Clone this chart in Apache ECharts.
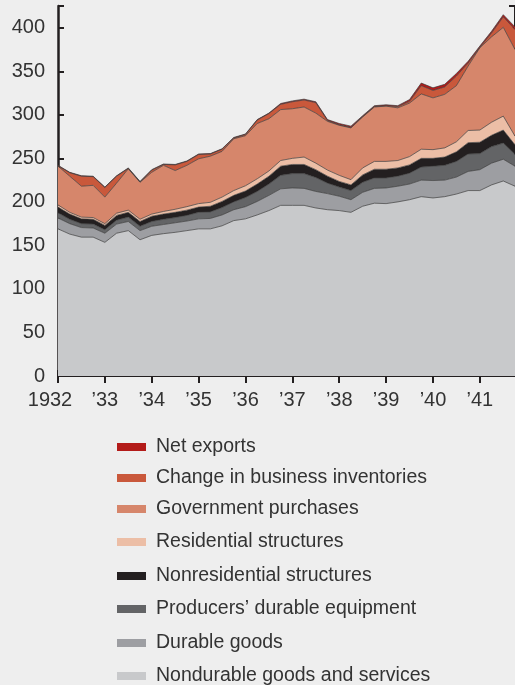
<!DOCTYPE html>
<html>
<head>
<meta charset="utf-8">
<script src="https://cdn.jsdelivr.net/npm/echarts@6/dist/echarts.min.js"></script>
<style>
  html, body { margin: 0; padding: 0; background: #eeeeee; }
  #main { width: 515px; height: 685px; }
</style>
</head>
<body>
<div id="main"></div>
<script>
// years shown on the axis, four quarters each
var years = ['1932', '1933', '1934', '1935', '1936', '1937', '1938', '1939', '1940', '1941'];
var yTicks = [0, 50, 100, 150, 200, 250, 300, 350, 400];

// quarterly values, 1932 Q1 .. 1941 Q4
var nondurable = [169, 163, 159.5, 159.5, 153.5, 164, 167, 156.5, 161.5, 163.5, 165, 167, 169, 169, 172.5, 178.5, 180.5, 185, 190, 196,
                  196, 196, 193, 191, 190, 188, 195, 198.5, 198, 200, 202.5, 206, 204.5, 206, 209, 213, 213, 219.5, 224, 218];
var durable = [12.5, 12, 11, 10.5, 10.5, 10.5, 10.5, 10.5, 10.5, 10.5, 11, 11, 11.5, 12, 12.5, 12.5, 14, 15.5, 17.5, 19,
               20, 19.5, 19, 18.5, 16.5, 14.5, 16, 17, 18, 18, 18, 19, 20, 19, 19.5, 22, 24, 25, 25, 23];
var producers = [6, 5, 4.5, 4.5, 4, 4.5, 5, 5, 5.5, 6, 6, 6.5, 7.5, 7.5, 8.5, 9, 10.5, 11.5, 13, 15.5,
                 16.5, 17, 16, 12, 10.5, 10.5, 11.5, 12, 11.5, 11.5, 12.5, 15, 16.5, 17, 18, 20, 18.5, 19, 18.5, 13.5];
var nonresidential = [6.5, 6, 5.5, 5.5, 5, 5.5, 5.5, 5.5, 6, 6, 6, 6, 6, 6.5, 7, 7.5, 7.5, 8.5, 9, 10.5,
                      10.5, 10.5, 9, 8, 6.5, 6.5, 8.5, 10, 10, 9.5, 9.5, 10, 9, 9.5, 11, 13, 13, 13, 15, 11];
var residential = [2.5, 2, 2, 2, 2, 2.5, 2.5, 2.5, 2.5, 3, 3.5, 4, 4, 4.5, 5, 5.5, 6, 6, 6, 6.5,
                   7, 8.5, 7.5, 7, 7, 6, 8, 9, 9, 8.5, 9.5, 10.5, 10, 10.5, 11.5, 14, 14, 15, 16, 10];
var government = [44.5, 41.5, 35.5, 37, 30.5, 34.5, 47.5, 42.5, 48, 53, 44.5, 47.5, 51.5, 53, 52.5, 59.5, 57.5, 63.5, 60, 58.5,
                  57, 57.5, 57.5, 56, 57.5, 59.5, 58.5, 62.5, 63.5, 60.5, 61.5, 63.5, 59.5, 61.5, 64.5, 74, 94.5, 98, 102, 99.5];
var inventories = [0.5, 4, 11.5, 10, 11, 8, 0.5, 0.5, 2.5, 1, 6.5, 4.5, 5, 2.5, 2.5, 1, 1.5, 4, 6, 6,
                   8, 8, 12, 1, 0.5, 0.5, 0.5, 0.5, 0.5, 1.5, 2, 9.5, 8.5, 8.5, 11, 3.5, 0.5, 4.5, 12, 23];
var netExports = [0.5, 0.5, 0.5, 0.5, 0.5, 0.5, 0.5, 0.5, 0.5, 0.5, 0.5, 0.5, 0.5, 0.5, 0.5, 0.5, 0.5, 0.5, 0.5, 1,
                  1, 1, 1, 1, 1.5, 1.5, 1, 1, 1, 1, 2, 3, 3, 3, 3, 2, 1.5, 2, 2.5, 3];

var quarters = [];
years.forEach(function (y) {
    for (var q = 1; q <= 4; q++) quarters.push(y + ' Q' + q);
});

var font = 'Liberation Sans, Arial, sans-serif';
var ink = '#231f20';

// bottom to top; legendTop is where each legend row sits
var layers = [
    { name: 'Nondurable goods and services', data: nondurable, color: '#c8c9cb', legendTop: 666 },
    { name: 'Durable goods', data: durable, color: '#9d9ea2', legendTop: 633 },
    { name: 'Producers’ durable equipment', data: producers, color: '#636466', legendTop: 599 },
    { name: 'Nonresidential structures', data: nonresidential, color: '#231f20', legendTop: 566 },
    { name: 'Residential structures', data: residential, color: '#ecbea6', legendTop: 532 },
    { name: 'Government purchases', data: government, color: '#d6866b', legendTop: 499 },
    { name: 'Change in business inventories', data: inventories, color: '#c9583b', legendTop: 468 },
    { name: 'Net exports', data: netExports, color: '#b31b19', legendTop: 437 }
];

var series = layers.map(function (l) {
    return {
        name: l.name,
        type: 'line',
        stack: 'gdp',
        data: l.data,
        color: l.color,
        symbol: 'none',
        lineStyle: { color: '#3c3c3c', width: 0.7 },
        areaStyle: { color: l.color, opacity: 1 },
        emphasis: { disabled: true }
    };
});

// one legend per row so the spacing can follow the reference
var legends = layers.map(function (l) {
    return {
        left: 117,
        top: l.legendTop,
        padding: 0,
        itemWidth: 29,
        itemHeight: 8,
        icon: 'rect',
        selectedMode: false,
        data: [l.name],
        textStyle: { fontFamily: font, fontSize: 19.5, color: '#333', padding: [0, 0, 0, 5] }
    };
});

var myChart = echarts.init(document.getElementById('main'));

var option = {
    backgroundColor: '#eeeeee',
    animation: false,
    grid: { left: 58, top: 6, width: 459.6, height: 370 },
    legend: legends,
    xAxis: [{
        type: 'category',
        data: quarters,
        boundaryGap: false,
        position: 'bottom',
        axisLine: { lineStyle: { color: ink, width: 2 } },
        axisTick: { inside: true, length: 6, interval: 3, lineStyle: { color: ink, width: 2 } },
        axisLabel: {
            interval: 3,
            margin: 14,
            fontFamily: font,
            fontSize: 20,
            color: '#333',
            formatter: function (v) {
                var y = v.slice(0, 4);
                return y === '1932' ? '{a|1932}' : '’' + y.slice(2);
            },
            rich: { a: { fontFamily: font, fontSize: 20, color: '#333', padding: [0, 16, 0, 0] } }
        },
        splitLine: { show: false }
    }, {
        type: 'category',
        data: quarters,
        boundaryGap: false,
        position: 'top',
        axisLine: { lineStyle: { color: ink, width: 2 } },
        axisTick: { inside: true, length: 7, interval: 3, lineStyle: { color: ink, width: 2 } },
        axisLabel: { show: false },
        splitLine: { show: false }
    }],
    yAxis: [{
        type: 'value',
        min: 0,
        max: 425,
        interval: 50,
        position: 'left',
        axisLine: { show: true, lineStyle: { color: ink, width: 2.5 } },
        axisTick: { show: true, inside: true, length: 6, lineStyle: { color: ink, width: 2 } },
        axisLabel: {
            margin: 13,
            fontFamily: font,
            fontSize: 20,
            color: '#333',
            formatter: function (v) { return yTicks.indexOf(v) >= 0 ? String(v) : ''; }
        },
        splitLine: { show: false }
    }, {
        type: 'value',
        min: 0,
        max: 425,
        interval: 50,
        position: 'right',
        axisLine: { show: true, lineStyle: { color: ink, width: 2 } },
        axisTick: { show: true, inside: true, length: 6, lineStyle: { color: ink, width: 2 } },
        axisLabel: { show: false },
        splitLine: { show: false }
    }],
    series: series
};

myChart.setOption(option);
</script>
</body>
</html>
